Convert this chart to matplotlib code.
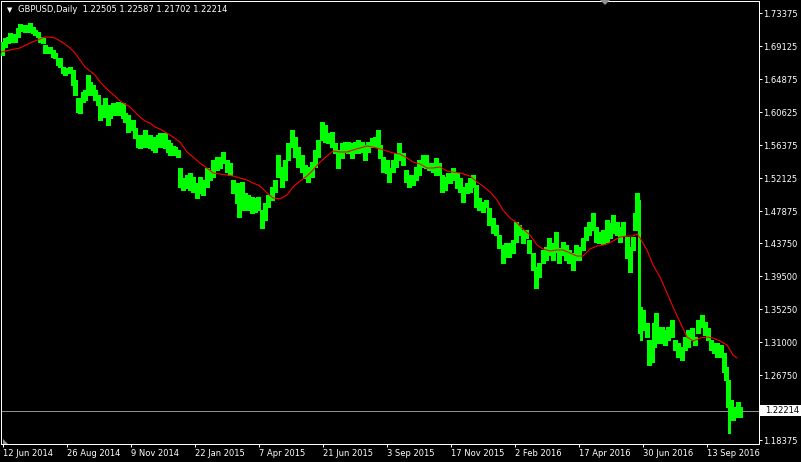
import matplotlib
matplotlib.use('Agg')
import matplotlib.pyplot as plt
from matplotlib.patches import Polygon, Rectangle

# данные графика (дневные бары, 1 пиксель = 1 бар)
symbol = 'GBPUSD,Daily'
last_ohlc = [1.22505, 1.22587, 1.21702, 1.22214]

bar_day = [2, 5, 8, 10, 13, 15, 18, 20, 23, 25, 28, 30, 33, 35, 38, 40, 43, 45, 48, 50,
           53, 55, 58, 60, 63, 65, 68, 70, 73, 75, 78, 80, 83, 85, 88, 90, 93, 95, 98, 100,
           103, 105, 108, 110, 113, 115, 118, 120, 123, 125, 128, 130, 133, 135, 138, 140, 143, 145, 148, 150,
           153, 155, 158, 160, 163, 165, 168, 170, 173, 175, 178, 180, 183, 187, 190, 193, 197, 200, 203, 207,
           210, 213, 217, 220, 223, 227, 230, 233, 237, 239, 242, 245, 248, 252, 255, 258, 262, 265, 268, 272,
           275, 278, 282, 285, 288, 292, 295, 298, 302, 305, 308, 312, 315, 318, 322, 325, 328, 332, 335, 338,
           342, 345, 348, 352, 355, 358, 362, 365, 368, 372, 375, 378, 380, 383, 387, 389, 393, 396, 399, 403,
           406, 409, 413, 416, 419, 423, 426, 429, 433, 436, 439, 442, 445, 448, 450, 453, 457, 460, 463, 467,
           470, 473, 476, 479, 483, 486, 489, 493, 496, 499, 503, 506, 509, 513, 516, 519, 523, 526, 529, 533,
           536, 539, 543, 546, 549, 553, 556, 559, 563, 566, 569, 573, 576, 579, 583, 586, 589, 593, 596, 599,
           603, 607, 610, 613, 617, 620, 623, 627, 630, 633, 635, 637, 639, 641, 643, 647, 649, 652, 654, 656,
           658, 662, 665, 668, 672, 675, 678, 682, 685, 688, 692, 695, 698, 702, 705, 708, 711, 714, 717, 721,
           724, 726, 728, 729, 731, 733, 736, 738, 740]
bar_high = [1.6968, 1.7019, 1.7032, 1.7084, 1.7071, 1.7058, 1.7148, 1.7200, 1.7187, 1.7187, 1.7174, 1.7213, 1.7161, 1.7122, 1.7097, 1.7032, 1.7019, 1.6929, 1.6903, 1.6903,
            1.6865, 1.6826, 1.6762, 1.6762, 1.6646, 1.6633, 1.6633, 1.6646, 1.6607, 1.6478, 1.6247, 1.6195, 1.6324, 1.6350, 1.6543, 1.6453, 1.6414, 1.6350, 1.6285, 1.6156,
            1.6131, 1.6247, 1.6092, 1.6156, 1.6182, 1.6131, 1.6195, 1.6156, 1.6182, 1.6053, 1.6028, 1.5937, 1.5963, 1.5860, 1.5744, 1.5770, 1.5744, 1.5834, 1.5770, 1.5770,
            1.5731, 1.5744, 1.5770, 1.5796, 1.5796, 1.5796, 1.5706, 1.5667, 1.5628, 1.5615, 1.5577, 1.5345, 1.5216, 1.5255, 1.5281, 1.5229, 1.5152, 1.5229, 1.5190, 1.5345,
            1.5319, 1.5448, 1.5487, 1.5487, 1.5551, 1.5448, 1.5409, 1.5190, 1.5152, 1.4971, 1.5165, 1.5023, 1.4997, 1.4971, 1.4959, 1.4971, 1.4804, 1.4894, 1.4997, 1.5100,
            1.5190, 1.5512, 1.5358, 1.5448, 1.5667, 1.5834, 1.5744, 1.5615, 1.5512, 1.5384, 1.5358, 1.5422, 1.5577, 1.5706, 1.5937, 1.5899, 1.5796, 1.5809, 1.5667, 1.5577,
            1.5667, 1.5680, 1.5680, 1.5667, 1.5680, 1.5706, 1.5680, 1.5641, 1.5680, 1.5731, 1.5744, 1.5834, 1.5641, 1.5487, 1.5448, 1.5345, 1.5448, 1.5538, 1.5667, 1.5538,
            1.5319, 1.5255, 1.5255, 1.5358, 1.5448, 1.5512, 1.5512, 1.5409, 1.5409, 1.5474, 1.5409, 1.5255, 1.5229, 1.5281, 1.5281, 1.5345, 1.5281, 1.5216, 1.5100, 1.5152,
            1.5216, 1.5255, 1.5126, 1.4959, 1.4907, 1.4933, 1.4830, 1.4701, 1.4611, 1.4482, 1.4353, 1.4379, 1.4379, 1.4418, 1.4649, 1.4611, 1.4546, 1.4546, 1.4418, 1.4250,
            1.4070, 1.4121, 1.4289, 1.4327, 1.4443, 1.4379, 1.4521, 1.4315, 1.4392, 1.4353, 1.4289, 1.4250, 1.4353, 1.4327, 1.4443, 1.4585, 1.4649, 1.4765, 1.4585, 1.4521,
            1.4546, 1.4675, 1.4637, 1.4740, 1.4649, 1.4585, 1.4649, 1.4456, 1.4327, 1.4456, 1.4765, 1.5023, 1.4933, 1.3555, 1.3516, 1.3349, 1.3130, 1.3039, 1.3349, 1.3477,
            1.3297, 1.3297, 1.3258, 1.3297, 1.3387, 1.3130, 1.3091, 1.3039, 1.3168, 1.3258, 1.3284, 1.3168, 1.3387, 1.3452, 1.3361, 1.3284, 1.3130, 1.3091, 1.3091, 1.3065,
            1.2962, 1.2782, 1.2615, 1.2447, 1.2357, 1.2267, 1.2228, 1.2331, 1.2267]
bar_low = [1.6800, 1.6903, 1.6955, 1.6968, 1.6994, 1.6968, 1.7032, 1.7122, 1.7110, 1.7097, 1.7097, 1.7097, 1.7084, 1.7058, 1.7032, 1.6968, 1.6955, 1.6826, 1.6826, 1.6826,
           1.6775, 1.6762, 1.6672, 1.6646, 1.6569, 1.6543, 1.6569, 1.6569, 1.6414, 1.6285, 1.6066, 1.6053, 1.6195, 1.6221, 1.6285, 1.6311, 1.6285, 1.6221, 1.6156, 1.5963,
           1.6002, 1.6066, 1.5899, 1.5989, 1.6028, 1.6028, 1.6028, 1.6028, 1.5989, 1.5937, 1.5809, 1.5860, 1.5834, 1.5731, 1.5615, 1.5603, 1.5667, 1.5615, 1.5615, 1.5603,
           1.5577, 1.5551, 1.5615, 1.5615, 1.5628, 1.5603, 1.5551, 1.5512, 1.5512, 1.5512, 1.5487, 1.5100, 1.5062, 1.5087, 1.5062, 1.5036, 1.4959, 1.5023, 1.4997, 1.5100,
           1.5190, 1.5229, 1.5319, 1.5345, 1.5409, 1.5293, 1.5255, 1.5023, 1.4894, 1.4714, 1.4804, 1.4804, 1.4804, 1.4765, 1.4778, 1.4804, 1.4572, 1.4675, 1.4843, 1.4933,
           1.5036, 1.5229, 1.5100, 1.5190, 1.5448, 1.5615, 1.5487, 1.5358, 1.5293, 1.5216, 1.5165, 1.5229, 1.5358, 1.5487, 1.5706, 1.5680, 1.5667, 1.5615, 1.5538, 1.5345,
           1.5474, 1.5551, 1.5538, 1.5474, 1.5538, 1.5538, 1.5551, 1.5448, 1.5551, 1.5615, 1.5615, 1.5615, 1.5474, 1.5293, 1.5281, 1.5165, 1.5293, 1.5358, 1.5448, 1.5384,
           1.5165, 1.5100, 1.5126, 1.5190, 1.5255, 1.5358, 1.5345, 1.5319, 1.5293, 1.5255, 1.5255, 1.5036, 1.5062, 1.5165, 1.5152, 1.5190, 1.5087, 1.5036, 1.4907, 1.5023,
           1.5036, 1.5100, 1.4843, 1.4804, 1.4778, 1.4843, 1.4611, 1.4508, 1.4482, 1.4315, 1.4121, 1.4199, 1.4199, 1.4250, 1.4392, 1.4482, 1.4379, 1.4443, 1.4250, 1.4031,
           1.3801, 1.3941, 1.4121, 1.4160, 1.4224, 1.4160, 1.4263, 1.4121, 1.4224, 1.4160, 1.4121, 1.4031, 1.4160, 1.4160, 1.4289, 1.4418, 1.4482, 1.4546, 1.4392, 1.4379,
           1.4366, 1.4392, 1.4443, 1.4508, 1.4482, 1.4392, 1.4482, 1.4186, 1.4005, 1.4289, 1.4546, 1.4714, 1.3220, 1.3130, 1.3258, 1.3168, 1.2808, 1.2846, 1.3039, 1.3220,
           1.3091, 1.3091, 1.3065, 1.3130, 1.3168, 1.3001, 1.2911, 1.2872, 1.3001, 1.3039, 1.3130, 1.3065, 1.3220, 1.3297, 1.3194, 1.3130, 1.3001, 1.2962, 1.2911, 1.2911,
           1.2717, 1.2615, 1.2267, 1.1932, 1.2099, 1.2099, 1.2138, 1.2164, 1.2138]

# скользящая средняя (красная линия)
ma_day = [1, 10, 20, 30, 40, 45, 50, 55, 60, 65, 70, 75, 80, 85, 90, 95, 100, 105, 110, 115,
          120, 125, 130, 135, 140, 145, 150, 155, 160, 170, 180, 187, 193, 200, 207, 213, 220, 227, 233, 240,
          247, 253, 260, 267, 273, 280, 287, 293, 300, 307, 313, 320, 327, 333, 340, 347, 353, 360, 367, 373,
          380, 387, 393, 400, 407, 413, 420, 427, 433, 440, 447, 453, 460, 470, 477, 483, 490, 497, 503, 510,
          517, 523, 530, 537, 543, 550, 557, 563, 570, 577, 583, 590, 597, 603, 607, 613, 620, 627, 633, 637,
          640, 647, 653, 660, 667, 673, 680, 687, 693, 700, 707, 713, 720, 727, 733, 737]
ma_value = [1.6839, 1.6865, 1.6891, 1.6955, 1.7007, 1.7032, 1.7032, 1.7019, 1.6981, 1.6942, 1.6891, 1.6826, 1.6736, 1.6646, 1.6594, 1.6543, 1.6453, 1.6388, 1.6324, 1.6272,
            1.6208, 1.6169, 1.6131, 1.6066, 1.6002, 1.5950, 1.5925, 1.5873, 1.5847, 1.5770, 1.5680, 1.5551, 1.5487, 1.5409, 1.5345, 1.5281, 1.5268, 1.5255, 1.5242, 1.5216,
            1.5190, 1.5152, 1.5113, 1.5023, 1.4959, 1.4946, 1.4997, 1.5100, 1.5177, 1.5242, 1.5319, 1.5422, 1.5500, 1.5564, 1.5551, 1.5551, 1.5577, 1.5603, 1.5628, 1.5615,
            1.5590, 1.5564, 1.5538, 1.5525, 1.5474, 1.5422, 1.5397, 1.5345, 1.5345, 1.5358, 1.5306, 1.5293, 1.5281, 1.5242, 1.5165, 1.5113, 1.5036, 1.4933, 1.4804, 1.4701,
            1.4637, 1.4559, 1.4482, 1.4353, 1.4302, 1.4276, 1.4289, 1.4289, 1.4250, 1.4211, 1.4211, 1.4302, 1.4340, 1.4353, 1.4366, 1.4405, 1.4456, 1.4469, 1.4469, 1.4495,
            1.4443, 1.4289, 1.4096, 1.3941, 1.3735, 1.3555, 1.3361, 1.3168, 1.3117, 1.3155, 1.3168, 1.3155, 1.3117, 1.3065, 1.2936, 1.2898]

price_ticks = [1.73375, 1.69125, 1.64875, 1.60625, 1.56375, 1.52125, 1.47875,
               1.43750, 1.39500, 1.35250, 1.31000, 1.26750, 1.18375]
date_ticks = [3, 67, 131, 195, 259, 323, 387, 451, 515, 579, 643, 707]
date_labels = ['12 Jun 2014', '26 Aug 2014', '9 Nov 2014', '22 Jan 2015', '7 Apr 2015', '21 Jun 2015',
               '3 Sep 2015', '17 Nov 2015', '2 Feb 2016', '17 Apr 2016', '30 Jun 2016', '13 Sep 2016']

W, H = 801, 462
px = 72 / 100  # один пиксель в пунктах

fig = plt.figure(figsize=(W / 100, H / 100), dpi=100, facecolor='black')
ax = fig.add_axes([1 / W, 18 / H, 758 / W, 443 / H])
ax.set_facecolor('black')
ax.set_xlim(1, 759)
ax.set_ylim(1.1790, 1.7496)

# бары: широкие обычные, тонкие для резких скачков
wide = [i for i in range(len(bar_day)) if bar_high[i] - bar_low[i] <= 0.04]
thin = [i for i in range(len(bar_day)) if bar_high[i] - bar_low[i] > 0.04]
ax.vlines([bar_day[i] for i in wide], [bar_low[i] for i in wide], [bar_high[i] for i in wide],
          colors='#00ff00', linewidth=3.4 * px, antialiased=False, zorder=3)
ax.vlines([bar_day[i] for i in thin], [bar_low[i] for i in thin], [bar_high[i] for i in thin],
          colors='#00ff00', linewidth=1.2 * px, antialiased=False, zorder=3)

ax.plot(ma_day, ma_value, color='#ff0000', linewidth=1.1 * px, zorder=4)

# линия текущей цены
ax.axhline(last_ohlc[3], color='#8f8f8f', linewidth=px, zorder=2)

for s in ax.spines.values():
    s.set_color('white')
    s.set_linewidth(px)

ax.yaxis.tick_right()
ax.set_yticks(price_ticks)
ax.set_yticklabels(['%.5f' % v for v in price_ticks])
ax.tick_params(axis='y', colors='white', labelsize=6, length=3 * px, width=px, pad=1.5 * px, direction='out')
ax.set_xticks(date_ticks)
ax.set_xticklabels(date_labels, ha='left')
ax.tick_params(axis='x', colors='white', labelsize=6, length=3 * px, width=px, pad=2 * px, direction='out')
for t in ax.get_xticklabels():
    t.set_horizontalalignment('left')

# метка цены справа
fig.canvas.draw()
yc = ax.transData.transform((0, last_ohlc[3]))[1]
fig.patches.append(Rectangle((760 / W, (yc - 5.5) / H), 41 / W, 11 / H, transform=fig.transFigure,
                             facecolor='white', edgecolor='none', zorder=5))
fig.text(765 / W, yc / H, '%.5f' % last_ohlc[3], color='black', fontsize=6, ha='left', va='center', zorder=6)

# заголовок
fig.text(7 / W, 1 - 10 / H, '\u25bc', color='white', fontsize=5, ha='left', va='center')
fig.text(18 / W, 1 - 10 / H, symbol + '  ' + ' '.join('%.5f' % v for v in last_ohlc),
         color='white', fontsize=6, ha='left', va='center')

# маркеры сдвига графика
fig.patches.append(Polygon([(600 / W, 1), (610 / W, 1), (605 / W, 1 - 5 / H)], closed=True,
                           transform=fig.transFigure, facecolor='#8f8f8f', edgecolor='none'))
fig.patches.append(Polygon([(3 / W, 18 / H), (8 / W, 18 / H), (3 / W, 23 / H)], closed=True,
                           transform=fig.transFigure, facecolor='#8f8f8f', edgecolor='none'))

fig.savefig('out.png', dpi=100, facecolor='black')
